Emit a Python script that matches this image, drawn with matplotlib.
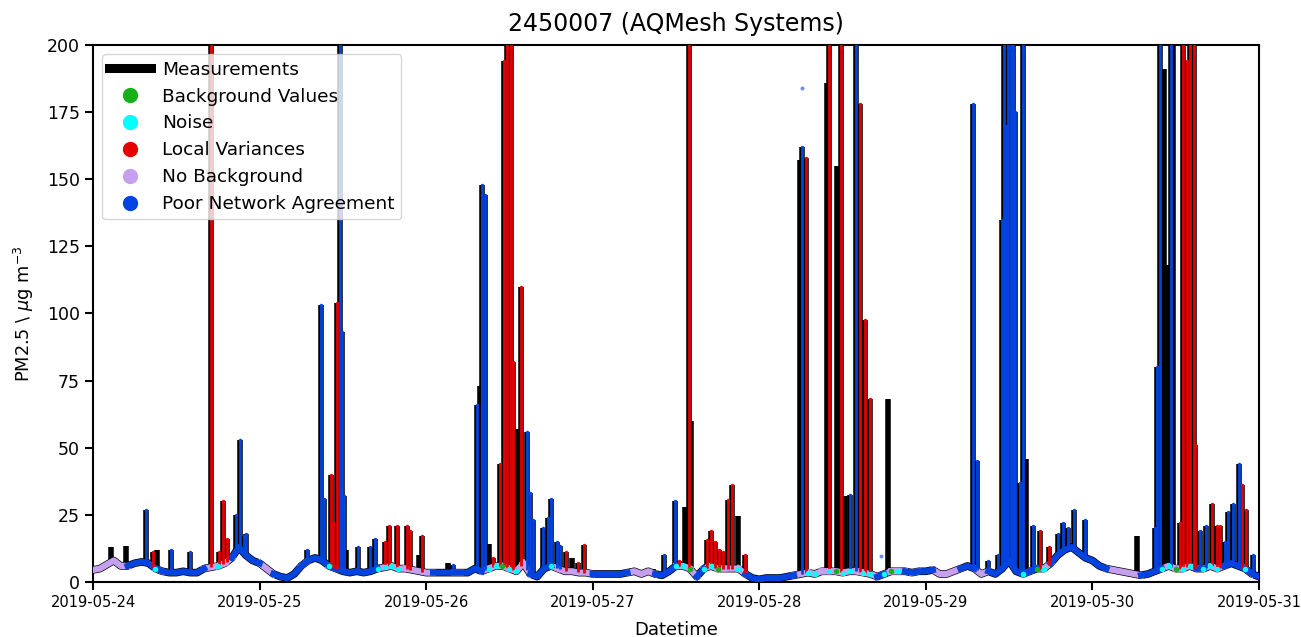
import numpy as np
import pandas as pd
import matplotlib
matplotlib.use("Agg")
import matplotlib.pyplot as plt
import matplotlib.dates as mdates
from matplotlib.lines import Line2D

# ---------------- data ----------------
start = pd.Timestamp("2019-05-24")
end = pd.Timestamp("2019-05-31")

# hourly background level of the measurements (µg m-3), 2019-05-24 00:00 .. 2019-05-31 00:00
base_vals = [
    4.5, 5, 6.5, 8, 6, 6, 7, 7.5, 7, 5, 4, 3.5, 3.5, 4, 3.5, 3.5, 5, 5.5, 6, 7, 9, 13, 10, 8,
    7, 5, 3, 2, 1.5, 3, 6, 8, 9, 8, 6, 5, 4, 3.5, 4, 3.5, 4, 5, 5.5, 6, 5, 5, 4.5, 4,
    3.5, 3.5, 3.5, 3.5, 3.5, 3.5, 3.5, 5, 4, 5, 6, 6, 5, 4, 7, 3, 2, 5, 6, 5, 4, 4, 3.5, 3.5,
    3, 3, 3, 3, 3, 3.5, 4, 3, 4, 3, 2.5, 4, 6, 6, 5, 2, 5, 6, 5, 5, 5, 5, 3, 1.5,
    1, 1.5, 1.5, 1.5, 2, 2.5, 3, 3.5, 3, 4, 4, 4, 3.5, 4, 4, 3.5, 3, 2, 3, 4, 4, 4, 3.5, 4,
    4, 4.5, 3, 3, 4, 5, 6, 5, 3, 4, 3, 5, 8, 4, 3, 4, 5, 5, 7, 10, 12, 13, 11, 9,
    8, 6, 5, 4.5, 4, 3.5, 3, 2.5, 3, 4, 5, 6, 5, 5, 6, 5, 5, 6, 5, 6, 7, 6, 5, 3, 2,
]
# flag of each hourly value: P = No Background, B = Poor Network Agreement,
# N = Noise, G = Background Values
base_flags = (
    "PPPPPBBBBNBBBBBBPPNPBBBB"
    "PPBBBBPBBBNBBBBBBNNNNPPP"
    "PBBBPBBBPNNGNNPBBBNPPPPP"
    "BBBBBPPPPBBBNNGBNNGPPNBB"
    "BBBBBPPNNPNGNNPNNBNGNBPB"
    "BPPPPBBPPBBBBBNBGNBBBBBB"
    "BBPPPPPBBBNNGNNBNNNBBBNBB"
)

# short events: hour since 2019-05-24 00:00, peak value, flag
# (K = measurement only, L = Local Variances, B = Poor Network Agreement)
spike_hours = [
    2.55, 4.7, 7.6, 8.7, 9.2, 11.2, 14.0, 17.0, 18.1, 18.8, 19.3, 20.6, 21.2, 21.7, 22.1,
    30.8, 32.9, 33.3, 34.3, 34.6, 35.2, 35.6, 35.9, 36.2, 36.5, 38.2, 39.9, 40.6, 42.1, 42.7,
    43.8, 45.2, 45.7, 46.9, 47.4,
    51.2, 51.9, 55.3, 55.7, 56.0, 56.5, 57.0, 57.7, 58.6, 59.2, 59.6, 60.2, 60.5, 61.0, 61.6,
    62.6, 63.0, 63.4, 64.9, 65.6, 66.0, 66.8, 67.3, 68.2, 69.0, 69.9, 70.7,
    80.7, 82.2, 83.8, 84.4, 85.3, 85.9, 86.2, 88.4, 89.0, 89.6, 90.2, 90.8, 91.5, 92.0, 93.0, 93.9,
    101.9, 102.2, 102.8, 105.7, 106.0, 107.2, 107.8, 108.4, 109.1, 110.0, 110.5, 111.3, 112.0, 114.6,
    126.8, 127.3, 129.0, 130.4, 131.0, 131.3, 131.6, 131.9, 132.2, 132.5, 132.8, 133.6, 134.0,
    134.4, 135.5, 136.5, 137.7, 139.0, 139.8, 140.5, 141.3, 143.0,
    150.4, 153.0, 153.3, 153.7, 154.3, 154.9, 155.3, 155.6, 156.6, 157.1, 157.6, 158.1, 158.6,
    158.8, 159.5, 160.3, 161.2, 161.9, 162.4, 163.1, 163.6, 164.2, 165.1, 165.6, 166.1, 167.2,
]
spike_vals = [
    13, 13.5, 27, 11, 12, 12, 11, 260, 11, 30, 16, 25, 53, 17, 18,
    12, 103, 31, 40, 22, 104, 260, 93, 32, 12, 13, 13, 16, 15, 21,
    21, 21, 19, 10, 17,
    7, 6.5, 66, 73, 148, 144, 14, 9, 44, 194, 260, 260, 82, 57, 110,
    56, 33, 23, 20, 24, 31, 15, 13.6, 11, 9, 7, 13.7,
    5, 10, 30, 8, 28, 260, 60, 15.6, 19, 15, 12, 11, 30.5, 36, 24.7, 10,
    157, 162, 158, 186, 260, 155, 260, 32, 32.5, 260, 178, 97.5, 68, 68,
    178, 45, 8, 10, 135, 260, 170, 260, 230, 260, 175, 37, 260,
    46, 21, 19, 13, 18, 22, 20, 26.7, 23,
    17, 20, 80, 260, 191, 118, 260, 260, 22, 260, 194, 260, 260,
    51, 19, 21, 29, 21, 21, 15, 26, 29, 44, 36, 27, 10,
]
spike_flags = (
    "KKBLKBBLLLLBBBB"
    "BBBLLLBBBKBBBLL"
    "LLLKL"
    "KBBKBBKLLLLLLKL"
    "BBBBBBBBLKLL"
    "KBBLKLKLLLLLLLKL"
    "KBLKLKLKBBLLLK"
    "BBBBBBBBBBBBB"
    "KBLLBBBBB"
    "KBBBKKBKLLLLL"
    "LBBLLLBBBBLLB"
)

# isolated single flagged readings (hour, value)
lone_hours = [102.2, 113.6]
lone_vals = [184, 9.8]

# ---------------- styling ----------------
COL = {
    "G": "#15b01a",  # Background Values
    "N": "#00ffff",  # Noise
    "L": "#e50000",  # Local Variances
    "P": "#c79fef",  # No Background
    "B": "#0343df",  # Poor Network Agreement
}

base_t = start + pd.to_timedelta(np.arange(len(base_vals)), unit="h")
base_v = np.array(base_vals, dtype=float)
flags = np.array(list(base_flags))
sp_t = start + pd.to_timedelta(np.array(spike_hours), unit="h")
sp_v = np.array(spike_vals, dtype=float)
sp_f = np.array(list(spike_flags))
sp_floor = np.interp(np.array(spike_hours), np.arange(len(base_vals)), base_v)

fig = plt.figure(figsize=(13.01, 6.37), dpi=100)
ax = fig.add_axes([0.0715, 0.0863, 0.8962, 0.8431])

# measurements (black)
ax.plot(base_t, base_v, color="k", lw=5.5, solid_capstyle="round", zorder=2)
ax.vlines(sp_t, sp_floor, sp_v, color="k", lw=4, zorder=2)

# flagged background values
for key, shade in [("P", "P"), ("N", "P"), ("G", "P"), ("B", "B")]:
    m = flags == key
    m_ext = m | np.roll(m, 1)
    m_ext[0] = m[0]
    yy = np.where(m_ext, base_v, np.nan)
    ax.plot(base_t, yy, color=COL[shade], lw=4.5, zorder=3)
for key in ["N", "G"]:
    m = flags == key
    ax.scatter(base_t[m], base_v[m], s=16, color=COL[key], zorder=4, linewidths=0)

# flagged short events
for key in ["L", "B"]:
    m = sp_f == key
    ax.vlines(sp_t[m], sp_floor[m], sp_v[m], color=COL[key], lw=2, zorder=3)
    ax.scatter(sp_t[m], np.minimum(sp_v[m], 199), s=6, color=COL[key], zorder=4, linewidths=0)

ax.scatter(start + pd.to_timedelta(np.array(lone_hours), unit="h"), lone_vals,
           s=8, color=COL["B"], alpha=0.6, zorder=4, linewidths=0)

ax.set_xlim(start, end)
ax.set_ylim(0, 200)
ax.set_yticks(np.arange(0, 201, 25))
ax.xaxis.set_major_locator(mdates.DayLocator())
ax.xaxis.set_major_formatter(mdates.DateFormatter("%Y-%m-%d"))
for s in ax.spines.values():
    s.set_linewidth(1.5)
ax.tick_params(axis="both", length=6, width=1.5)
ax.tick_params(axis="x", labelsize=10.5)
ax.tick_params(axis="y", labelsize=12.5)
ax.set_title("2450007 (AQMesh Systems)", fontsize=17, pad=10)
ax.set_xlabel("Datetime", fontsize=13, labelpad=8)
ax.set_ylabel(r"PM2.5 \ $\mu$g m$^{-3}$", fontsize=12.8, labelpad=8)

handles = [Line2D([0], [0], color="k", lw=6.5)]
labels = ["Measurements", "Background Values", "Noise", "Local Variances",
          "No Background", "Poor Network Agreement"]
for key in ["G", "N", "L", "P", "B"]:
    handles.append(Line2D([0], [0], marker="o", ls="", color=COL[key], markersize=10))
ax.legend(handles, labels, loc="upper left", fontsize=13.3, handlelength=2.3,
          handletextpad=0.6, borderpad=0.35, labelspacing=0.48, framealpha=0.8)

fig.savefig("out.png", dpi=100)
